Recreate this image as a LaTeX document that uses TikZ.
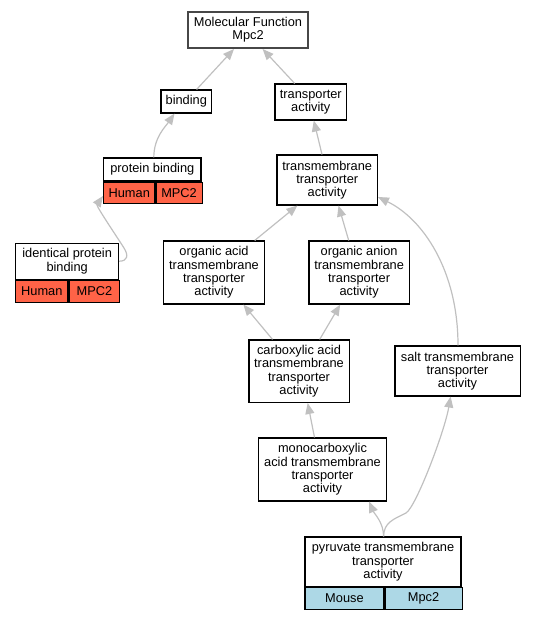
\documentclass[tikz,border=0pt]{standalone}
\usepackage{fontspec}
\setmainfont{Liberation Sans}
\usetikzlibrary{arrows.meta}

\definecolor{edgegray}{HTML}{C0C0C0}
\definecolor{humanred}{HTML}{FF6347}
\definecolor{mouseblue}{HTML}{ADD8E6}

\begin{document}
\begin{tikzpicture}[x=1pt,y=-1pt,
    every node/.style={font=\fontsize{12.8}{13.3}\selectfont, inner sep=0pt, align=center},
    term/.style={draw=black, fill=white, line width=1.1pt},
    rootterm/.style={draw=black!72, fill=white, line width=2pt},
    cell/.style={draw=black, line width=1.1pt, minimum height=21.7pt, anchor=north west},
    isa/.style={draw=edgegray, line width=1.2pt, -{Triangle[length=11pt,width=9pt]}}]
    \useasboundingbox (0,0) rectangle (536,619);

    % Draw the terms
    \node[rootterm, minimum width=120.7pt, minimum height=36pt] (mf) at (248,30) {Molecular Function\\Mpc2};
    \node[term, minimum width=50.6pt, minimum height=23pt] (bind) at (186.3,101.5) {binding};
    \node[term, minimum width=71.7pt, minimum height=36pt] (trans) at (310.8,102) {transporter\\activity};
    \node[term, minimum width=100.4pt, minimum height=50pt] (tmta) at (327.2,180) {transmembrane\\transporter\\activity};
    \node[term, minimum width=100.5pt, minimum height=63pt] (oata) at (214,272.5) {organic acid\\transmembrane\\transporter\\activity};
    \node[term, minimum width=100.2pt, minimum height=63pt] (oana) at (359.1,272.5) {organic anion\\transmembrane\\transporter\\activity};
    \node[term, minimum width=100.1pt, minimum height=62.5pt] (cata) at (299,371.2) {carboxylic acid\\transmembrane\\transporter\\activity};
    \node[term, minimum width=125.1pt, minimum height=50pt] (salt) at (457.5,371) {salt transmembrane\\transporter\\activity};
    \node[term, minimum width=127.5pt, minimum height=63pt] (mcta) at (322.5,469.5) {monocarboxylic\\acid transmembrane\\transporter\\activity};

    % Terms with annotated genes
    \node[term, minimum width=97.4pt, minimum height=23pt] (pbind) at (152.3,169.5) {protein binding};
    \node[cell, fill=humanred, minimum width=51.3pt] (pbindorg) at (pbind.south west) {Human};
    \node[cell, fill=humanred, minimum width=46.1pt] (pbindgene) at (pbindorg.north east) {MPC2};

    \node[term, minimum width=102.9pt, minimum height=36.3pt] (ipb) at (67.15,261.2) {identical protein\\binding};
    \node[cell, fill=humanred, minimum width=52.3pt] (ipborg) at (ipb.south west) {Human};
    \node[cell, fill=humanred, minimum width=50.6pt] (ipbgene) at (ipborg.north east) {MPC2};

    \node[term, minimum width=156pt, minimum height=49.7pt] (pyta) at (383,561.85) {pyruvate transmembrane\\transporter\\activity};
    \node[cell, fill=mouseblue, minimum width=78.9pt] (pytaorg) at (pyta.south west) {Mouse};
    \node[cell, fill=mouseblue, minimum width=77.1pt] (pytagene) at (pytaorg.north east) {Mpc2};

    % Draw the is_a links
    \draw[isa] ([xshift=10.3pt]bind.north) -- ([xshift=-14pt]mf.south);
    \draw[isa] ([xshift=-16.1pt]trans.north) -- ([xshift=14.6pt]mf.south);
    \draw[isa] ([xshift=1.5pt]pbind.north) .. controls +(0,-20) and +(-9,13) .. ([xshift=-11.8pt]bind.south);
    \draw[isa] ([xshift=-5.2pt]tmta.north) -- ([xshift=3pt]trans.south);
    \draw[isa] ([xshift=40.7pt]oata.north) -- ([xshift=-29.8pt]tmta.south);
    \draw[isa] ([xshift=-10.4pt]oana.north) -- ([xshift=11.3pt]tmta.south);
    \draw[isa] ([xshift=0.5pt]salt.north) .. controls +(0,-75) and +(45,22) .. ([yshift=-17pt]tmta.east);
    \draw[isa] ([xshift=-26.5pt]cata.north) -- ([xshift=29.4pt]oata.south);
    \draw[isa] ([xshift=20.7pt]cata.north) -- ([xshift=-18.9pt]oana.south);
    \draw[isa] ([xshift=-8pt]mcta.north) -- ([xshift=8.7pt]cata.south);
    \draw[isa] ([xshift=0.6pt]pyta.north) .. controls +(0,-14) and +(5,12) .. ([xshift=46.7pt]mcta.south);

    \coordinate (pybend) at (406,513);
    \draw[isa] ([xshift=0.6pt]pyta.north) .. controls +(0,-14) and +(-12,6) .. (pybend)
        .. controls +(10,-6) and +(-6,35) .. ([xshift=-6.9pt]salt.south);

    \coordinate (ipbbend) at (124,248);
    \draw[isa] (ipb.east) .. controls +(8,0) and +(5,8) .. (ipbbend)
        .. controls +(-5,-8) and +(-7,10) .. ([yshift=-3pt]pbindorg.west);
\end{tikzpicture}
\end{document}
